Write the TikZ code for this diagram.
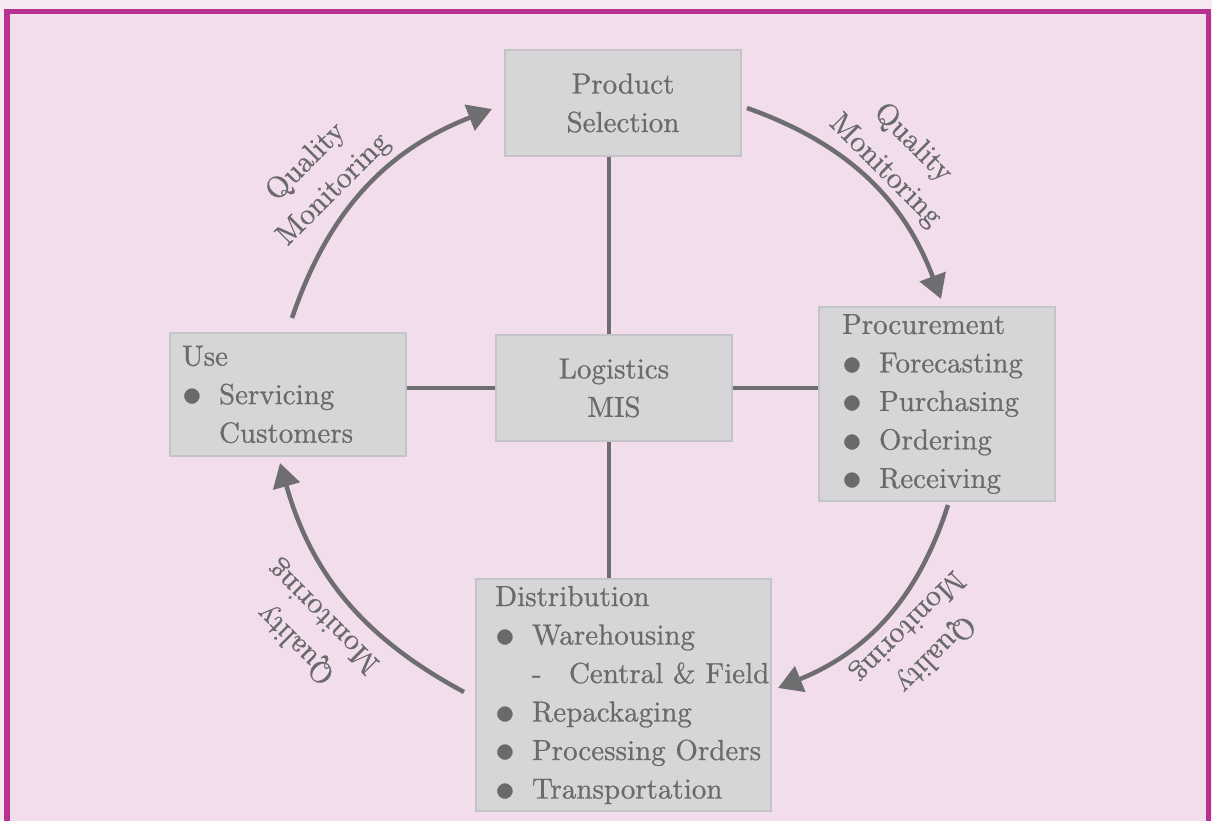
\documentclass[tikz,border=0pt]{standalone}
\usepackage{fontspec}
\usepackage{xcolor}
\usepackage{tikz}
\usetikzlibrary{arrows.meta}
\usetikzlibrary{positioning}
\newfontfamily\bod{lmroman10-regular.otf}[FakeBold=0.7]
\definecolor{framemag}{RGB}{184,48,144}
\definecolor{bgpink}{RGB}{242,221,237}
\definecolor{outpink}{RGB}{247,232,242}
\definecolor{boxgrey}{RGB}{214,214,217}
\definecolor{edgegrey}{RGB}{196,196,199}
\definecolor{txtgrey}{RGB}{106,106,108}
\definecolor{lngrey}{RGB}{110,110,112}
\tikzset{>={Triangle[length=24pt,width=27pt]}}
\tikzstyle{blk} = [draw=edgegrey, fill=boxgrey, line width=2pt, text=txtgrey, font=\bod\fontsize{29}{38.5}\selectfont, inner sep=0pt]
\tikzstyle{link} = [-, draw=lngrey, line width=4pt]
\tikzstyle{cyc} = [->, draw=lngrey, line width=4.5pt, bend left=25]
\tikzstyle{qm} = [text=txtgrey, font=\bod\fontsize{30}{39}\selectfont, align=center, inner sep=0pt]
\newcommand{\bul}{\makebox[37pt][l]{\raisebox{-0.1em}{\scalebox{1.6}{$\bullet$}}}}

\begin{document}
\begin{tikzpicture}[x=1pt, y=-1pt]
\useasboundingbox (0,0) rectangle (1212,820);
\fill [outpink] (0,0) rectangle (1212,820);
\fill [bgpink] (7,11.5) rectangle (1208.5,830);
\draw [framemag, line width=5.5pt] (7,830) -- (7,11.5) -- (1208.5,11.5) -- (1208.5,830);
%\node [draw=none] at (606,0) {cycle};
\coordinate (axis) at (609,0);
\node [blk, minimum width=236pt, minimum height=106pt, align=center] (PS) at (623,103) {Product\\Selection};
\node [blk, minimum width=236pt, minimum height=106pt, align=center] (MIS) at (614,388) {Logistics\\MIS};
\node [blk, text width=236pt, minimum height=123pt, align=left] (USE) at (288,394.5) {\leftskip=12pt Use\\ \bul Servicing\\ \hspace*{37pt}Customers\par};
\node [blk, text width=236pt, minimum height=194pt, align=left] (PROC) at (937,404) {\leftskip=23pt Procurement\\ \bul Forecasting\\ \bul Purchasing\\ \bul Ordering\\ \bul Receiving\par};
\node [blk, text width=295pt, minimum height=232pt, align=left] (DIST) at (623.5,695) {\leftskip=19pt Distribution\\ \bul Warehousing\\ \hspace*{37pt}\makebox[37pt][l]{-}Central \& Field\\ \bul Repackaging\\ \bul Processing Orders\\ \bul Transportation\par};
\draw [link] (PS.south -| axis) to (MIS.north -| axis);
\draw [link] (MIS.south -| axis) to (DIST.north -| axis);
\draw [link] (USE.east |- MIS) to (MIS.west);
\draw [link] (MIS.east) to (PROC.west |- MIS);
\coordinate (c1) at (292,318);
\coordinate (c2) at (492,109);
\coordinate (c3) at (747,108);
\coordinate (c4) at (941,299);
\coordinate (c5) at (948,505);
\coordinate (c6) at (778,688);
\coordinate (c7) at (464,692);
\coordinate (c8) at (280,463);
\draw [cyc] (c1) to (c2);
\draw [cyc] (c3) to (c4);
\draw [cyc] (c5) to (c6);
\draw [cyc, bend left=23] (c7) to (c8);
\node [qm, rotate=45] (QM1) at (320,176) {Quality\\Monitoring};
\node [qm, rotate=-45] (QM2) at (899,157) {Quality\\Monitoring};
\node [qm, rotate=225] (QM3) at (921,640) {Quality\\Monitoring};
\node [qm, rotate=135] (QM4) at (310,630) {Quality\\Monitoring};
\end{tikzpicture}
\end{document}
